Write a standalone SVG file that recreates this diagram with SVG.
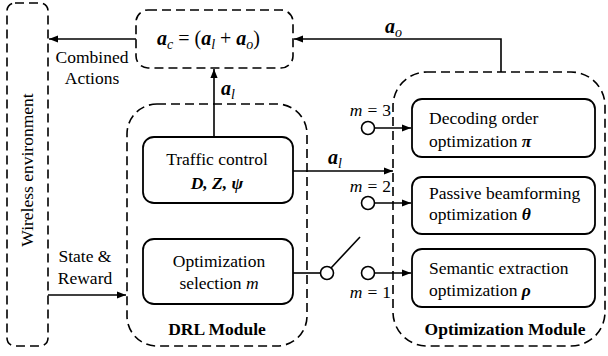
<svg xmlns="http://www.w3.org/2000/svg" width="608" height="356" viewBox="0 0 608 356" font-family="'Liberation Serif', 'DejaVu Serif', serif">
  <defs>
    <marker id="arrow" viewBox="0 0 10 10" refX="10" refY="5" markerWidth="9" markerHeight="9" markerUnits="userSpaceOnUse" orient="auto">
      <path d="M0,1 L10,5 L0,9 Z" fill="#000"/>
    </marker>
    <style>
      .dash { fill: none; stroke: #000; stroke-width: 1.6; stroke-dasharray: 9 5; }
      .box { fill: #fff; stroke: #000; stroke-width: 1.8; }
      .line { fill: none; stroke: #000; stroke-width: 1.6; }
      .arr { fill: none; stroke: #000; stroke-width: 1.6; marker-end: url(#arrow); }
      .node { fill: #fff; stroke: #000; stroke-width: 1.6; }
      text { font-family: 'Liberation Serif', 'DejaVu Serif', serif; font-size: 17.5px; fill: #000; }
      .c { text-anchor: middle; }
      .b { font-weight: bold; }
      .bi { font-weight: bold; font-style: italic; }
      .i { font-style: italic; }
      .math { font-size: 20px; }
      .sub { font-size: 14px; font-style: italic; }
    </style>
  </defs>

  <!-- outer dashed containers -->
  <g id="wireless-environment">
    <rect class="dash" x="7" y="3" width="41" height="343" rx="8"/>
    <text class="c" transform="translate(33,170) rotate(-90)">Wireless environment</text>
  </g>

  <g id="drl-module">
    <rect class="dash" x="127" y="104" width="180" height="242" rx="30"/>
    <text class="c b" x="217" y="335">DRL Module</text>
  </g>

  <g id="optimization-module">
    <rect class="dash" x="393" y="72" width="212" height="274" rx="34"/>
    <text class="c b" x="505" y="335">Optimization Module</text>
  </g>

  <g id="combined-action">
    <rect class="dash" x="136" y="10" width="157" height="58" rx="12"/>
    <text class="math" x="157" y="45"><tspan class="bi">a</tspan><tspan class="sub" dy="4">c</tspan><tspan dy="-4" dx="5">=</tspan><tspan dx="5">(</tspan><tspan class="bi">a</tspan><tspan class="sub" dy="4">l</tspan><tspan dy="-4" dx="5">+</tspan><tspan dx="5" class="bi">a</tspan><tspan class="sub" dy="4">o</tspan><tspan dy="-4">)</tspan></text>
  </g>

  <!-- inner solid nodes -->
  <g id="traffic-control">
    <rect class="box" x="143" y="137" width="150" height="66" rx="11"/>
    <text class="c" x="217" y="165">Traffic control</text>
    <text class="c bi" x="217" y="189">D, Z, ψ</text>
  </g>

  <g id="optimization-selection">
    <rect class="box" x="143" y="239" width="150" height="65" rx="11"/>
    <text class="c" x="219" y="267">Optimization</text>
    <text class="c" x="219" y="289">selection <tspan class="i">m</tspan></text>
  </g>

  <g id="decoding-order">
    <rect class="box" x="412" y="99" width="183" height="58" rx="10"/>
    <text x="429" y="124">Decoding order</text>
    <text x="429" y="147">optimization <tspan class="bi">π</tspan></text>
  </g>

  <g id="passive-beamforming">
    <rect class="box" x="412" y="177" width="183" height="57" rx="10"/>
    <text x="429" y="199">Passive beamforming</text>
    <text x="429" y="220">optimization  <tspan class="bi">θ</tspan></text>
  </g>

  <g id="semantic-extraction">
    <rect class="box" x="412" y="249" width="183" height="58" rx="10"/>
    <text x="429" y="274">Semantic extraction</text>
    <text x="429" y="296">optimization  <tspan class="bi">ρ</tspan></text>
  </g>

  <!-- connectors, switch contacts and their labels -->
  <g id="connectors">
    <!-- combined actions to the environment -->
    <line class="arr" x1="136" y1="39" x2="49" y2="39"/>
    <text class="c" x="92" y="63">Combined</text>
    <text class="c" x="92" y="84">Actions</text>

    <!-- state and reward into the DRL module -->
    <line class="arr" x1="48" y1="295" x2="126" y2="295"/>
    <text class="c" x="85" y="262">State &amp;</text>
    <text class="c" x="85" y="284">Reward</text>

    <!-- a_l up to the combiner -->
    <line class="arr" x1="214" y1="137" x2="214" y2="69"/>
    <text class="math" x="221" y="95"><tspan class="bi">a</tspan><tspan class="sub" dy="4">l</tspan></text>

    <!-- a_o from the optimization module -->
    <polyline class="arr" points="501,72 501,39 294,39"/>
    <text class="math" x="385" y="33"><tspan class="bi">a</tspan><tspan class="sub" dy="4">o</tspan></text>

    <!-- a_l to the optimization module -->
    <line class="arr" x1="293" y1="171" x2="393" y2="171"/>
    <text class="math" x="328" y="164"><tspan class="bi">a</tspan><tspan class="sub" dy="4">l</tspan></text>

    <!-- selection switch -->
    <line class="line" x1="293" y1="273" x2="320" y2="273"/>
    <circle class="node" cx="327" cy="273" r="6.5"/>
    <line class="line" x1="331" y1="268" x2="360" y2="237"/>

    <!-- contacts to the optimizers -->
    <circle class="node" cx="368" cy="128" r="6.5"/>
    <line class="arr" x1="374.5" y1="128" x2="411" y2="128"/>
    <text x="391" y="116" text-anchor="end"><tspan class="i">m</tspan><tspan dx="5">=</tspan><tspan dx="5">3</tspan></text>

    <circle class="node" cx="368" cy="203" r="6.5"/>
    <line class="arr" x1="374.5" y1="203" x2="411" y2="203"/>
    <text x="391" y="192" text-anchor="end"><tspan class="i">m</tspan><tspan dx="5">=</tspan><tspan dx="5">2</tspan></text>

    <circle class="node" cx="368" cy="273" r="6.5"/>
    <line class="arr" x1="374.5" y1="273" x2="411" y2="273"/>
    <text x="391" y="298" text-anchor="end"><tspan class="i">m</tspan><tspan dx="5">=</tspan><tspan dx="5">1</tspan></text>
  </g>
</svg>
